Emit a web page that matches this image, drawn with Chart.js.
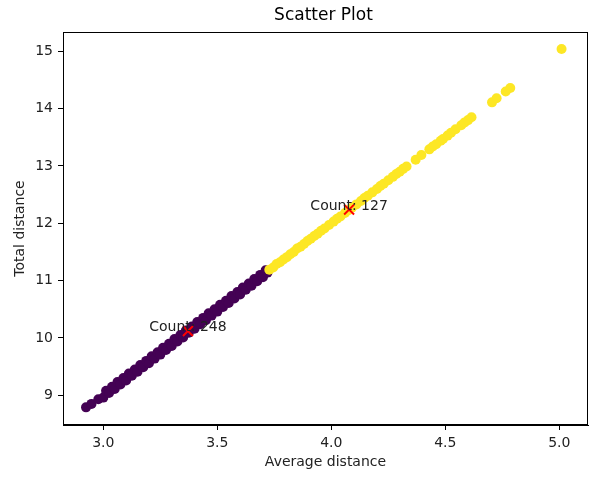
<!DOCTYPE html>
<html>
<head>
<meta charset="utf-8">
<script src="https://cdn.jsdelivr.net/npm/chart.js@4"></script>
<style>
  html, body { margin: 0; padding: 0; background: #fff; }
  #wrap { width: 589px; height: 477px; }
</style>
</head>
<body>
<div id="wrap"><canvas id="canvas" width="589" height="477"></canvas></div>
<script>
// cluster 0 (purple)
const purpleX = [2.924, 2.948, 2.978, 3.000, 3.012, 3.025, 3.038, 3.050, 3.062, 3.075, 3.088, 3.100,
  3.112, 3.125, 3.138, 3.150, 3.162, 3.175, 3.188, 3.200, 3.212, 3.225, 3.238, 3.250, 3.262, 3.275,
  3.288, 3.300, 3.312, 3.325, 3.338, 3.350, 3.362, 3.375, 3.388, 3.400, 3.412, 3.425, 3.438, 3.450,
  3.462, 3.475, 3.488, 3.500, 3.512, 3.525, 3.538, 3.550, 3.562, 3.575, 3.588, 3.600, 3.612, 3.625,
  3.638, 3.650, 3.662, 3.675, 3.688, 3.700, 3.712, 3.720];
const purpleY = [8.79, 8.85, 8.93, 8.96, 9.08, 9.04, 9.15, 9.11, 9.23, 9.19, 9.30, 9.26,
  9.38, 9.34, 9.45, 9.41, 9.53, 9.49, 9.60, 9.56, 9.68, 9.64, 9.75, 9.71, 9.83, 9.79,
  9.90, 9.86, 9.98, 9.94, 10.05, 10.01, 10.13, 10.09, 10.20, 10.16, 10.28, 10.24, 10.35, 10.31,
  10.43, 10.39, 10.50, 10.46, 10.58, 10.54, 10.65, 10.61, 10.73, 10.69, 10.80, 10.76, 10.88, 10.84,
  10.95, 10.91, 11.03, 10.99, 11.10, 11.06, 11.18, 11.14];

// cluster 1 (yellow)
const yellowX = [3.728, 3.745, 3.760, 3.775, 3.790, 3.805, 3.820, 3.835, 3.850, 3.865, 3.880, 3.895,
  3.910, 3.925, 3.940, 3.955, 3.970, 3.990, 4.010, 4.025, 4.040, 4.060, 4.075, 4.090, 4.110, 4.130,
  4.145, 4.160, 4.180, 4.200, 4.215, 4.230, 4.250, 4.270, 4.285, 4.300, 4.315, 4.330, 4.370, 4.395,
  4.430, 4.445, 4.460, 4.480, 4.490, 4.510, 4.525, 4.545, 4.570, 4.585, 4.600, 4.615, 4.705, 4.725,
  4.765, 4.785, 5.010];
const yellowY = [11.19, 11.23, 11.29, 11.32, 11.37, 11.41, 11.46, 11.50, 11.56, 11.59, 11.64, 11.69,
  11.73, 11.78, 11.82, 11.87, 11.91, 11.97, 12.03, 12.08, 12.12, 12.18, 12.23, 12.27, 12.33, 12.39,
  12.44, 12.48, 12.54, 12.60, 12.65, 12.69, 12.75, 12.81, 12.86, 12.90, 12.95, 12.99, 13.11, 13.19,
  13.29, 13.34, 13.38, 13.44, 13.47, 13.53, 13.58, 13.64, 13.71, 13.76, 13.80, 13.85, 14.11, 14.18,
  14.30, 14.36, 15.04];

// centroids + counts
const centroidX = [3.371, 4.078];
const centroidY = [10.12, 12.24];
const counts = [248, 127];

const xTickValues = [3.0, 3.5, 4.0, 4.5, 5.0];
const yTickValues = [9, 10, 11, 12, 13, 14, 15];

const purple = "#440154";
const yellow = "#fde725";
const font = "DejaVu Sans";

function pts(xs, ys) {
  return xs.map((x, i) => ({ x: x, y: ys[i] }));
}

// title, frame and count labels
const extras = {
  id: "extras",
  afterDraw(chart) {
    const c = chart.ctx;
    const a = chart.chartArea;
    c.save();
    c.strokeStyle = "#000";
    c.lineWidth = 1;
    c.strokeRect(a.left + 0.5, a.top + 0.5, a.right - a.left - 1, a.bottom - a.top - 1);

    c.fillStyle = "#000";
    c.font = "17px '" + font + "'";
    c.textAlign = "center";
    c.textBaseline = "middle";
    c.fillText("Scatter Plot", (a.left + a.right) / 2 - 2, 16);

    c.font = "14px '" + font + "'";
    c.fillStyle = "#222";
    c.textBaseline = "alphabetic";
    const xs = chart.scales.x, ys = chart.scales.y;
    for (let i = 0; i < counts.length; i++) {
      c.fillText("Count: " + counts[i], xs.getPixelForValue(centroidX[i]), ys.getPixelForValue(centroidY[i]));
    }
    c.restore();
  }
};

const ctx = document.getElementById("canvas").getContext("2d");
const myChart = new Chart(ctx, {
  type: "scatter",
  data: {
    datasets: [
      {
        data: pts(centroidX, centroidY),
        pointStyle: "crossRot",
        pointRadius: 7,
        borderColor: "#ff0000",
        borderWidth: 2,
      },
      {
        data: pts(yellowX, yellowY),
        backgroundColor: yellow,
        pointRadius: 5,
        borderWidth: 0,
      },
      {
        data: pts(purpleX, purpleY),
        backgroundColor: purple,
        pointRadius: 5,
        borderWidth: 0,
      },
    ],
  },
  options: {
    responsive: false,
    animation: false,
    layout: { autoPadding: false, padding: { top: 32, right: 1, bottom: 0, left: 0 } },
    plugins: {
      legend: { display: false },
      tooltip: { enabled: false },
    },
    scales: {
      x: {
        type: "linear",
        min: 2.823,
        max: 5.126,
        afterBuildTicks: (s) => { s.ticks = xTickValues.map(v => ({ value: v })); },
        afterFit: (s) => { s.height = 52; s.paddingLeft = 0; s.paddingRight = 0; },
        ticks: {
          callback: (v) => v.toFixed(1),
          color: "#222",
          font: { family: font, size: 14 },
          padding: 5,
          maxRotation: 0,
        },
        grid: { display: true, drawOnChartArea: false, drawTicks: true, tickLength: 5, color: "#000" },
        border: { display: true, color: "#000" },
        title: {
          display: true,
          text: "Average distance",
          color: "#222",
          font: { family: font, size: 14 },
          padding: { top: 0, bottom: 6 },
        },
      },
      y: {
        type: "linear",
        min: 8.482,
        max: 15.337,
        afterBuildTicks: (s) => { s.ticks = yTickValues.map(v => ({ value: v })); },
        afterFit: (s) => { s.width = 63; s.paddingTop = 0; s.paddingBottom = 0; },
        ticks: {
          color: "#222",
          font: { family: font, size: 14 },
          padding: 5,
        },
        grid: { display: true, drawOnChartArea: false, drawTicks: true, tickLength: 5, color: "#000" },
        border: { display: true, color: "#000" },
        title: {
          display: true,
          text: "Total distance",
          color: "#222",
          font: { family: font, size: 14 },
          padding: { top: 12, bottom: 0 },
        },
      },
    },
  },
  plugins: [extras],
});
</script>
</body>
</html>
